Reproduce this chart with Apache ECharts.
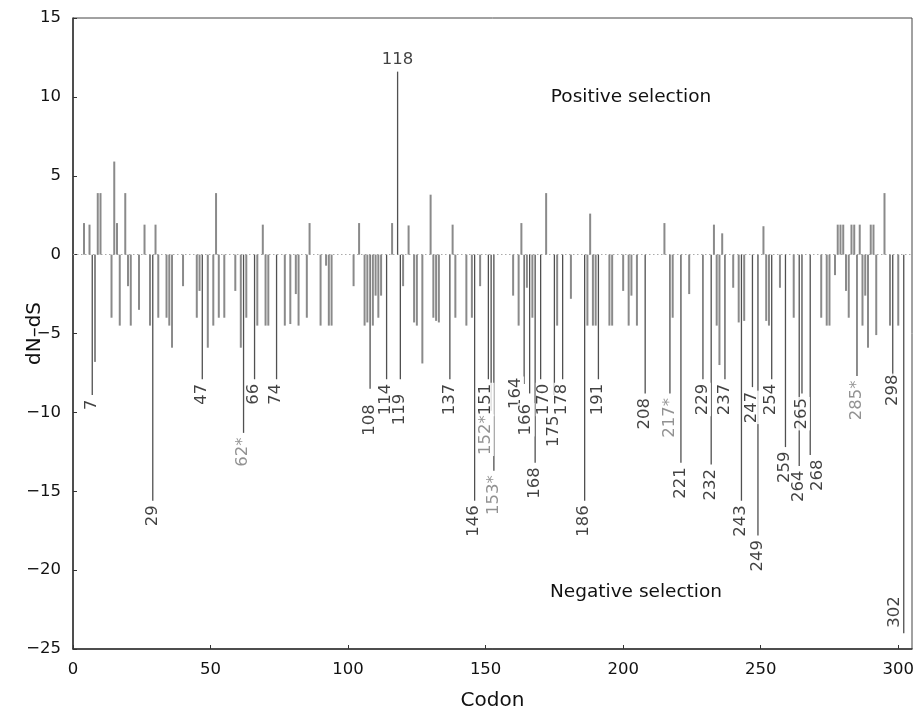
<!DOCTYPE html>
<html><head><meta charset="utf-8">
<script src="https://cdn.jsdelivr.net/npm/echarts@6/dist/echarts.min.js"></script>
<style>html,body{margin:0;padding:0;background:#fff}#c{width:915px;height:711px}</style>
</head><body><div id="c"></div>
<script>
// ---- data ----
const codons = [4,6,7,8,9,10,14,15,16,17,19,20,21,24,26,28,29,30,31,34,35,36,40,45,46,47,49,51,52,53,55,59,61,62,63,
  66,67,69,70,71,74,77,79,81,82,85,86,90,92,93,94,102,104,106,107,108,109,110,111,112,114,116,118,119,120,122,124,125,127,
  130,131,132,133,137,138,139,143,145,146,148,151,152,153,160,162,163,164,165,166,167,168,170,172,175,176,178,181,
  186,187,188,189,190,191,195,196,200,202,203,205,208,215,217,218,221,224,229,232,233,234,235,236,237,240,242,243,244,
  247,249,251,252,253,254,257,259,262,264,265,268,272,274,275,277,278,279,280,281,282,283,284,285,286,287,288,289,
  290,291,292,295,297,298,300,302];
const dnds = [2.0,1.9,-8.9,-6.8,3.9,3.9,-4.0,5.9,2.0,-4.5,3.9,-2.0,-4.5,-3.5,1.9,-4.5,-15.6,1.9,-4.0,-4.0,-4.5,-5.9,-2.0,-4.0,-2.3,-7.9,-5.9,-4.5,3.9,-4.0,-4.0,-2.3,-5.9,-11.3,-4.0,
  -7.9,-4.5,1.9,-4.5,-4.5,-7.9,-4.5,-4.4,-2.5,-4.5,-4.0,2.0,-4.5,-0.7,-4.5,-4.5,-2.0,2.0,-4.5,-4.3,-8.5,-4.5,-2.6,-4.0,-2.6,-7.9,2.0,11.6,-7.9,-2.0,1.85,-4.3,-4.5,-6.9,
  3.8,-4.0,-4.2,-4.3,-7.9,1.9,-4.0,-4.5,-4.0,-15.6,-2.0,-7.9,-9.9,-13.7,-2.6,-4.5,2.0,-8.2,-2.1,-8.8,-4.0,-13.2,-7.9,3.9,-8.9,-4.5,-7.9,-2.8,
  -15.6,-4.5,2.6,-4.5,-4.5,-7.9,-4.5,-4.5,-2.3,-4.5,-2.6,-4.5,-8.8,2.0,-8.8,-4.0,-13.2,-2.5,-7.9,-13.3,1.9,-4.5,-7.0,1.35,-7.9,-2.1,-4.3,-15.6,-4.2,
  -8.4,-17.8,1.8,-4.2,-4.5,-7.9,-2.1,-12.2,-4.0,-13.4,-8.8,-12.7,-4.0,-4.5,-4.5,-1.3,1.9,1.9,1.9,-2.3,-4.0,1.9,1.9,-7.7,1.9,-4.5,-2.6,-5.9,
  1.9,1.9,-5.1,3.9,-4.5,-7.7,-4.5,-24.0];
const labeledCodons = [7,29,47,62,66,74,108,114,118,119,137,146,151,152,153,164,166,168,170,175,178,186,191,208,217,221,
  229,232,237,243,247,249,254,259,264,265,268,285,298,302];
const starredCodons = [62,152,153,217,285];
const xTickValues = [0,50,100,150,200,250,300];
const yMin = -25, yMax = 15, yStep = 5;
const xMin = 0, xMax = 305;
const xTitle = 'Codon';
const yTitle = 'dN–dS';
const annotationTexts = ['Positive selection', 'Negative selection'];

// ---- layout / style ----
const FONT = "'DejaVu Sans', sans-serif";
const labelNudge = {108:[0,11],119:[0,10],151:[-2,0],152:[-5,0],164:[-8,-11],166:[-3,6],170:[4,0],175:[0,16],268:[8,0],298:[0,-6]};
const minus = v => (v < 0 ? '\u2212' + Math.abs(v) : String(v));

const barData = codons.map((c, i) => [c, dnds[i], labeledCodons.includes(c) ? 1 : 0]);
const labelData = labeledCodons.map(c => {
  const v = dnds[codons.indexOf(c)];
  const starred = starredCodons.includes(c);
  const base = {
    formatter: String(c) + (starred ? '*' : ''),
    color: starred ? '#777' : '#111'
  };
  if (v > 0) {
    Object.assign(base, {position: 'top', distance: 3, rotate: 0, align: 'center', verticalAlign: 'bottom'});
  } else if (c === 302) {
    Object.assign(base, {position: [-9, -4], rotate: 90, align: 'left', verticalAlign: 'middle'});
  } else {
    const n = labelNudge[c] || [0, 0];
    Object.assign(base, {position: [n[0], 4 + n[1]], rotate: 90, align: 'right', verticalAlign: 'middle'});
  }
  return {value: [c, v], label: base};
});

const chart = echarts.init(document.getElementById('c'), null, {renderer: 'canvas'});
chart.setOption({
  animation: false,
  backgroundColor: '#fff',
  grid: {left: 73, right: 3, top: 18, bottom: 62, containLabel: false, outerBoundsMode: 'none',
         show: true, borderColor: '#444', borderWidth: 1, backgroundColor: 'transparent'},
  xAxis: {
    type: 'value', min: xMin, max: xMax,
    name: xTitle, nameLocation: 'middle', nameGap: 42, nameMoveOverlap: false,
    nameTextStyle: {fontFamily: FONT, fontSize: 20, color: '#111'},
    axisLine: {show: true, onZero: false, lineStyle: {color: '#333', width: 1.5}},
    axisTick: {show: true, inside: true, length: 4, lineStyle: {color: '#333'}, customValues: xTickValues},
    axisLabel: {fontFamily: FONT, fontSize: 16.5, color: '#111', margin: 12, customValues: xTickValues},
    splitLine: {show: false}
  },
  yAxis: {
    type: 'value', min: yMin, max: yMax, interval: yStep,
    name: yTitle, nameLocation: 'middle', nameGap: 28, nameRotate: 90, nameMoveOverlap: false,
    nameTextStyle: {fontFamily: FONT, fontSize: 20, color: '#111'},
    axisLine: {show: true, onZero: false, lineStyle: {color: '#333', width: 1.5}},
    axisTick: {show: true, inside: true, length: 4, lineStyle: {color: '#333'}},
    axisLabel: {fontFamily: FONT, fontSize: 16.5, color: '#111', margin: 12, formatter: minus},
    splitLine: {show: false}
  },
  graphic: [
    {type: 'text', x: 631, y: 97, style: {text: annotationTexts[0], font: '18.5px ' + FONT, fill: '#111', align: 'center', verticalAlign: 'middle', textAlign: 'center', textVerticalAlign: 'middle'}},
    {type: 'text', x: 636, y: 592, style: {text: annotationTexts[1], font: '18.5px ' + FONT, fill: '#111', align: 'center', verticalAlign: 'middle', textAlign: 'center', textVerticalAlign: 'middle'}}
  ],
  series: [
    {
      type: 'custom', z: 2,
      data: barData,
      encode: {x: 0, y: 1},
      renderItem: function (params, api) {
        const x = api.value(0), v = api.value(1), lab = api.value(2);
        const p0 = api.coord([x, 0]), p1 = api.coord([x, v]);
        const w = lab ? 1.3 : 2;
        return {
          type: 'rect',
          shape: {x: p0[0] - w / 2, y: Math.min(p0[1], p1[1]), width: w, height: Math.abs(p1[1] - p0[1])},
          style: {fill: lab ? '#505050' : '#8a8a8a'}
        };
      }
    },
    {
      type: 'scatter', z: 5,
      symbolSize: 1,
      itemStyle: {color: 'rgba(0,0,0,0)'},
      data: labelData,
      label: {show: true, fontFamily: FONT, fontSize: 16.5, backgroundColor: '#fff', padding: [0, 1]},
      markLine: {
        silent: true, symbol: 'none', label: {show: false}, z: 1,
        lineStyle: {type: [1.5, 2.5], color: '#aaa', width: 1},
        data: [{yAxis: 0}]
      }
    }
  ]
});
</script></body></html>
